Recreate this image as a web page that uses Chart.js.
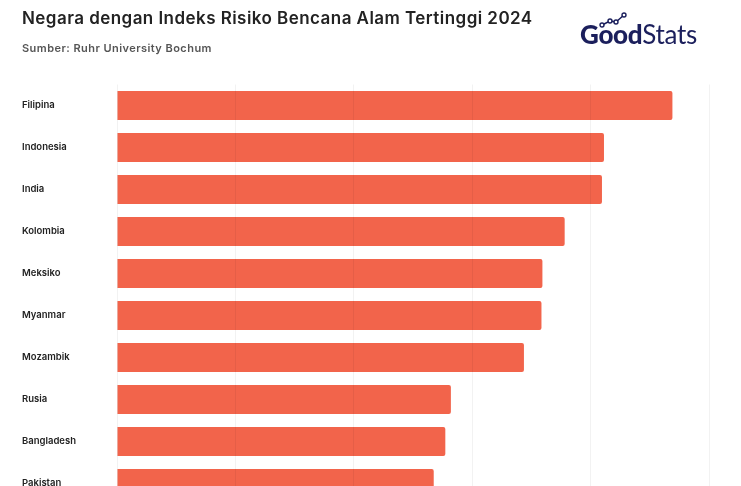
<!DOCTYPE html>
<html>
<head>
<meta charset="utf-8">
<script src="https://cdn.jsdelivr.net/npm/chart.js@4"></script>
<style>
  html, body { margin: 0; padding: 0; background: #fff; overflow: hidden; }
  #wrap { position: relative; width: 741px; height: 486px; overflow: hidden; }
  #chart { position: absolute; left: 0; top: 0; }
  .title { position: absolute; left: 22px; top: 8px; font: 600 17px "Inter", sans-serif; color: #222; letter-spacing: 0.45px; }
  .sub { position: absolute; left: 22px; top: 41px; font: 600 11px "Inter", sans-serif; color: #555; letter-spacing: 0.45px; }
  .logo { position: absolute; left: 580px; top: 18px; font-family: "Lato", sans-serif; font-size: 26px; color: #1b1f5c; letter-spacing: -0.3px; }
  .logo b { font-weight: 900; }
  .logo span { font-weight: 400; }
  .logo svg { position: absolute; left: 19px; top: -6px; }
</style>
</head>
<body>
<div id="wrap">
  <canvas id="chart" width="741" height="520"></canvas>
  <div class="title">Negara dengan Indeks Risiko Bencana Alam Tertinggi 2024</div>
  <div class="sub">Sumber: Ruhr University Bochum</div>
  <div class="logo">
    <svg width="30" height="16" viewBox="0 0 30 16">
      <polyline points="3,13 11,9 17,10 25,3" fill="none" stroke="#1b1f5c" stroke-width="1.6"/>
      <circle cx="3" cy="13" r="2" fill="#fff" stroke="#1b1f5c" stroke-width="1.4"/>
      <circle cx="11" cy="9" r="2" fill="#fff" stroke="#1b1f5c" stroke-width="1.4"/>
      <circle cx="17" cy="10" r="2" fill="#fff" stroke="#1b1f5c" stroke-width="1.4"/>
      <circle cx="25" cy="3" r="2" fill="#fff" stroke="#1b1f5c" stroke-width="1.4"/>
    </svg>
    <b>Good</b><span>Stats</span>
  </div>
</div>
<script>
// WorldRiskIndex 2024, top 10 (only these fit in the frame)
const countries = [
  "Filipina", "Indonesia", "India", "Kolombia", "Meksiko",
  "Myanmar", "Mozambik", "Rusia", "Bangladesh", "Pakistan",
];
const riskIndex = [46.91, 41.13, 40.96, 37.81, 35.93, 35.85, 34.37, 28.2, 27.73, 26.75];
const xTicks = [0, 10, 20, 30, 40, 50];

new Chart(document.getElementById("chart"), {
  type: "bar",
  data: {
    labels: countries,
    datasets: [
      {
        data: riskIndex,
        backgroundColor: "#f2644b",
        borderRadius: 2,
        borderSkipped: "start",
        categoryPercentage: 1,
        barPercentage: 0.69,
      },
    ],
  },
  options: {
    indexAxis: "y",
    responsive: false,
    animation: false,
    layout: { padding: { top: 84.5, right: 32, bottom: 15.5, left: 22 } },
    plugins: { legend: { display: false }, tooltip: { enabled: false } },
    scales: {
      x: {
        min: 0,
        max: 50,
        afterBuildTicks: (s) => { s.ticks = xTicks.map((v) => ({ value: v })); },
        ticks: { display: false },
        grid: { color: "rgba(0,0,0,0.05)", drawTicks: false, z: 1 },
        border: { display: false },
      },
      y: {
        afterFit: (s) => { s.width = 95; },
        grid: { display: false, drawTicks: false },
        border: { display: false },
        ticks: {
          crossAlign: "far",
          color: "#222",
          padding: 0,
          font: { family: "Inter", size: 9.5, weight: 600 },
        },
      },
    },
  },
});
</script>
</body>
</html>
